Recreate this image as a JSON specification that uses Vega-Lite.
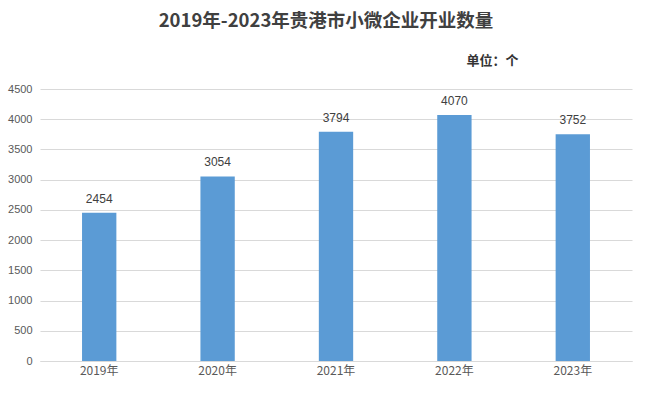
{
  "$schema": "https://vega.github.io/schema/vega-lite/v6.json",
  "width": 592,
  "height": 272,
  "autosize": {"type": "none"},
  "padding": {"left": 40, "top": 89, "right": 14, "bottom": 32},
  "background": "white",
  "title": {
    "text": "2019年-2023年贵港市小微企业开业数量",
    "anchor": "middle",
    "offset": 24,
    "dx": -10,
    "fontSize": 18.5,
    "fontWeight": "bold",
    "font": "Noto Sans CJK SC",
    "color": "#404040"
  },
  "data": {
    "values": [
      {"year": "2019年", "count": 2454},
      {"year": "2020年", "count": 3054},
      {"year": "2021年", "count": 3794},
      {"year": "2022年", "count": 4070},
      {"year": "2023年", "count": 3752}
    ]
  },
  "encoding": {
    "x": {
      "field": "year",
      "type": "nominal",
      "sort": null,
      "scale": {"paddingInner": 0.71, "paddingOuter": 0.355},
      "axis": {
        "title": null,
        "labelAngle": 0,
        "ticks": false,
        "domainColor": "#d9d9d9",
        "labelColor": "#595959",
        "labelFontSize": 12,
        "labelFont": "Noto Sans CJK SC",
        "labelPadding": 4
      }
    },
    "y": {
      "field": "count",
      "type": "quantitative",
      "scale": {"domain": [0, 4500]},
      "axis": {
        "values": [0, 500, 1000, 1500, 2000, 2500, 3000, 3500, 4000, 4500],
        "format": "d",
        "title": "单位：个",
        "titleAngle": 0,
        "titleX": 452,
        "titleY": -29,
        "titleAlign": "center",
        "titleBaseline": "middle",
        "titleFontSize": 13,
        "titleFontWeight": "bold",
        "titleFont": "Noto Sans CJK SC",
        "titleColor": "#333333",
        "domain": false,
        "ticks": false,
        "gridColor": "#d9d9d9",
        "labelColor": "#595959",
        "labelFontSize": 11,
        "labelFont": "Liberation Sans",
        "labelPadding": 8
      }
    }
  },
  "layer": [
    {
      "mark": {"type": "bar", "color": "#5b9bd5"}
    },
    {
      "mark": {"type": "text", "dy": -14, "fontSize": 12, "color": "#404040", "font": "Liberation Sans"},
      "encoding": {"text": {"field": "count", "type": "quantitative", "format": "d"}}
    }
  ],
  "config": {"view": {"stroke": null}}
}
